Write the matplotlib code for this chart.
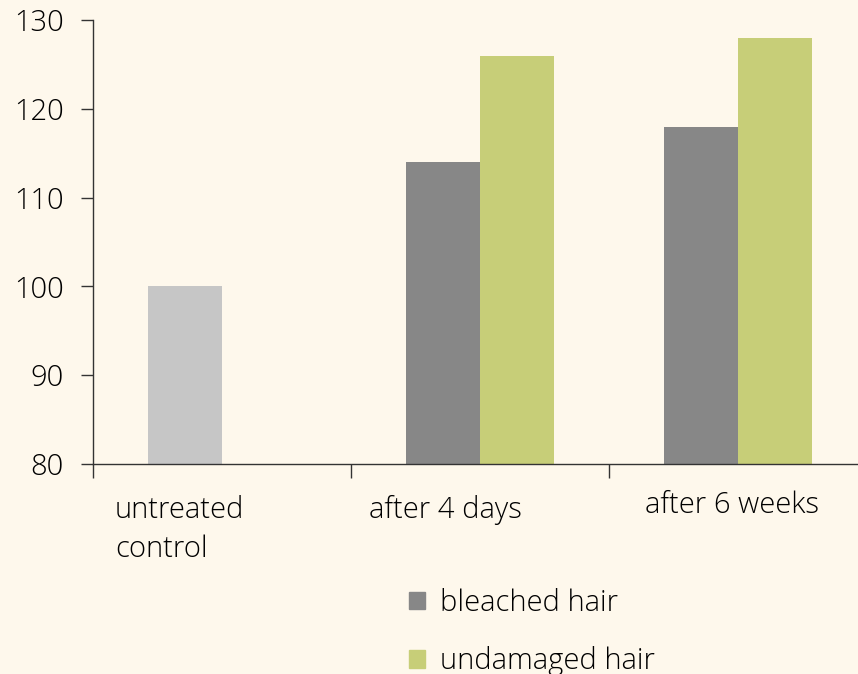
import matplotlib
matplotlib.use('Agg')
import matplotlib.pyplot as plt
import matplotlib.transforms as mtransforms
from matplotlib.patches import Patch
import numpy as np

# Данные
categories = ['untreated\ncontrol', 'after 4 days', 'after 6 weeks']
bleached = [100, 114, 118]
undamaged = [np.nan, 126, 128]
series_labels = ['bleached hair', 'undamaged hair']
yticks = [80, 90, 100, 110, 120, 130]

# Цвета
bg = '#FEF8EC'
c_control = '#C6C6C6'
c_bleached = '#878787'
c_undamaged = '#C7CE78'
c_text = '#000000'

plt.rcParams['font.family'] = ['Open Sans', 'DejaVu Sans']
plt.rcParams['font.weight'] = 'light'

fig = plt.figure(figsize=(8.58, 6.74), dpi=100, facecolor=bg)
ax = fig.add_axes([93 / 858, 210 / 674, 774 / 858, 444 / 674], facecolor=bg)

x = np.arange(len(categories))
w = 0.286
bar_colors = [c_control, c_bleached, c_bleached]
ax.bar(x - w / 2, bleached, width=w, color=bar_colors)
ax.bar(x + w / 2, undamaged, width=w, color=c_undamaged)

ax.set_xlim(-0.5, 2.5)
ax.set_ylim(80, 130)
ax.set_yticks(yticks)
ax.set_xticks([-0.5, 0.5, 1.5, 2.5])
ax.set_xticklabels([])
ax.tick_params(axis='y', labelsize=21, length=9, width=1, color='#333333', pad=12,
               labelcolor=c_text)
ax.tick_params(axis='x', length=10, width=1, color='#333333')
for s in ['top', 'right']:
    ax.spines[s].set_visible(False)
for s in ['left', 'bottom']:
    ax.spines[s].set_color('#333333')
    ax.spines[s].set_linewidth(1)

# Подписи категорий
trans = mtransforms.blended_transform_factory(ax.transData, ax.transAxes)
label_pos = [(-0.415, -0.07), (0.57, -0.07), (1.64, -0.06)]
for (lx, ly), txt in zip(label_pos, categories):
    ax.text(lx, ly, txt, transform=trans, ha='left', va='top', fontsize=21,
            color=c_text, linespacing=1.42)

# Легенда
handles = [Patch(color=c_bleached), Patch(color=c_undamaged)]
fig.legend(handles, series_labels, loc='upper left', bbox_to_anchor=(383 / 858, 1 - 562 / 674),
           frameon=False, fontsize=21, handlelength=0.55, handleheight=0.55,
           handletextpad=0.5, labelspacing=0.97, labelcolor=c_text)

fig.savefig('out.png', dpi=100, facecolor=bg)
